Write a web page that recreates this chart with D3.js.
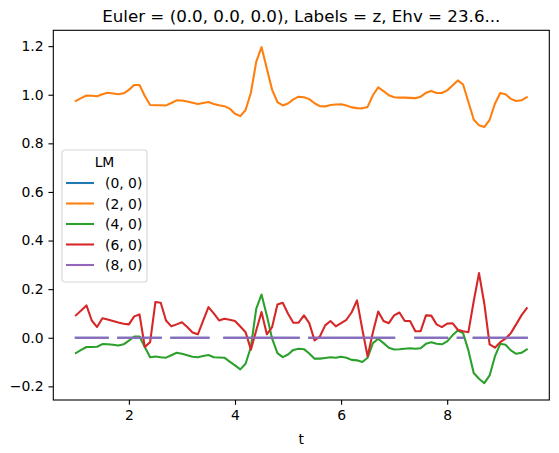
<!DOCTYPE html>
<html>
<head>
<meta charset="utf-8">
<script src="https://cdn.jsdelivr.net/npm/d3@7"></script>
<style>
  body { margin: 0; background: #fff; }
  text { font-family: "DejaVu Sans", sans-serif; }
</style>
</head>
<body>
<div id="chart"></div>
<script>
// time axis
var tValues = [1.0, 1.1, 1.2, 1.3, 1.4, 1.5, 1.6, 1.7, 1.8, 1.9,
  2.0, 2.1, 2.2, 2.3, 2.4, 2.5, 2.6, 2.7, 2.8, 2.9,
  3.0, 3.1, 3.2, 3.3, 3.4, 3.5, 3.6, 3.7, 3.8, 3.9,
  4.0, 4.1, 4.2, 4.3, 4.4, 4.5, 4.6, 4.7, 4.8, 4.9,
  5.0, 5.1, 5.2, 5.3, 5.4, 5.5, 5.6, 5.7, 5.8, 5.9,
  6.0, 6.1, 6.2, 6.3, 6.4, 6.5, 6.6, 6.7, 6.8, 6.9,
  7.0, 7.1, 7.2, 7.3, 7.4, 7.5, 7.6, 7.7, 7.8, 7.9,
  8.0, 8.1, 8.2, 8.3, 8.4, 8.5, 8.6, 8.7, 8.8, 8.9,
  9.0, 9.1, 9.2, 9.3, 9.4, 9.5];

// (0, 0) -- hidden under (8, 0)
var lm00 = [0, 0, 0, 0, 0, 0, 0, null, 0, 0,
  0, 0, 0, 0, 0, 0, 0, null, 0, 0,
  0, 0, 0, 0, 0, 0, null, null, 0, 0,
  0, 0, 0, 0, 0, 0, 0, 0, 0, 0,
  0, 0, 0, null, 0, 0, 0, 0, 0, 0,
  0, 0, 0, 0, 0, 0, 0, 0, 0, 0,
  0, null, null, null, 0, 0, 0, 0, 0, 0,
  0, null, 0, 0, null, 0, 0, 0, 0, 0,
  0, 0, 0, 0, 0, 0];

var lm20 = [0.975, 0.986, 0.997, 0.996, 0.994, 1.002, 1.008, 1.005, 1.002, 1.006,
  1.020, 1.040, 1.040, 0.995, 0.958, 0.957, 0.957, 0.956, 0.966, 0.977,
  0.976, 0.972, 0.967, 0.962, 0.966, 0.970, 0.962, 0.957, 0.953, 0.943,
  0.922, 0.912, 0.937, 1.008, 1.135, 1.196, 1.108, 1.020, 0.970, 0.956,
  0.964, 0.981, 0.992, 0.990, 0.982, 0.965, 0.953, 0.952, 0.958, 0.960,
  0.961, 0.956, 0.948, 0.945, 0.944, 0.950, 0.998, 1.030, 1.015, 0.998,
  0.990, 0.988, 0.988, 0.987, 0.986, 0.992, 1.008, 1.015, 1.007, 1.007,
  1.018, 1.038, 1.059, 1.042, 0.970, 0.898, 0.874, 0.867, 0.897, 0.963,
  1.007, 1.002, 0.983, 0.974, 0.977, 0.990];

var lm40 = [-0.063, -0.050, -0.038, -0.038, -0.037, -0.026, -0.027, -0.029, -0.032, -0.027,
  -0.012, 0.005, 0.005, -0.038, -0.080, -0.077, -0.080, -0.082, -0.072, -0.062,
  -0.066, -0.072, -0.078, -0.080, -0.075, -0.071, -0.080, -0.081, -0.082, -0.098,
  -0.114, -0.130, -0.107, -0.038, 0.119, 0.178, 0.092, -0.004, -0.063, -0.080,
  -0.069, -0.050, -0.045, -0.047, -0.065, -0.086, -0.086, -0.083, -0.080, -0.082,
  -0.078, -0.082, -0.091, -0.093, -0.100, -0.082, -0.022, -0.004, -0.022, -0.041,
  -0.048, -0.047, -0.045, -0.043, -0.045, -0.043, -0.025, -0.019, -0.025, -0.027,
  -0.015, 0.010, 0.030, 0.019, -0.052, -0.145, -0.169, -0.187, -0.155, -0.077,
  -0.025, -0.029, -0.052, -0.066, -0.062, -0.048];

var lm60 = [0.092, 0.112, 0.133, 0.071, 0.044, 0.080, 0.075, 0.069, 0.063, 0.058,
  0.055, 0.088, 0.096, -0.038, -0.018, 0.147, 0.144, 0.071, 0.047, 0.055,
  0.064, 0.044, 0.022, 0.014, 0.070, 0.126, 0.100, 0.071, 0.078, 0.074,
  0.069, 0.046, 0.023, -0.049, 0.030, 0.106, 0.014, 0.044, 0.137, 0.144,
  0.099, 0.062, 0.062, 0.092, 0.060, -0.011, 0.005, 0.051, 0.069, 0.047,
  0.060, 0.074, 0.105, 0.154, 0.035, -0.077, 0.023, 0.108, 0.069, 0.060,
  0.092, 0.104, 0.069, 0.069, 0.027, 0.027, 0.092, 0.091, 0.055, 0.044,
  0.058, 0.060, 0.033, 0.027, 0.023, 0.150, 0.266, 0.140, -0.027, -0.041,
  -0.018, -0.004, 0.019, 0.055, 0.092, 0.122];

var lm80 = [0, 0, 0, 0, 0, 0, 0, null, 0, 0,
  0, 0, 0, 0, 0, 0, 0, null, 0, 0,
  0, 0, 0, 0, 0, 0, null, null, 0, 0,
  0, 0, 0, 0, 0, 0, 0, 0, 0, 0,
  0, 0, 0, null, 0, 0, 0, 0, 0, 0,
  0, 0, 0, 0, 0, 0, 0, 0, 0, 0,
  0, null, null, null, 0, 0, 0, 0, 0, 0,
  0, null, 0, 0, null, 0, 0, 0, 0, 0,
  0, 0, 0, 0, 0, 0];

var seriesLabels = ['(0, 0)', '(2, 0)', '(4, 0)', '(6, 0)', '(8, 0)'];
var seriesValues = [lm00, lm20, lm40, lm60, lm80];
var colors = ['#1f77b4', '#ff7f0e', '#2ca02c', '#d62728', '#9467bd'];

var xTicks = [2, 4, 6, 8];
var yTicks = [-0.2, 0.0, 0.2, 0.4, 0.6, 0.8, 1.0, 1.2];

var titleText = 'Euler = (0.0, 0.0, 0.0), Labels = z, Ehv = 23.6...';
var xLabel = 't';
var legendTitle = 'LM';

function drawChart() {
  var frame = d3.select('#chart');
  frame.html('');
  var margins = { left: 53.3, right: 9.7, top: 30.3, bottom: 53 };
  var totalWidth = 559, totalHeight = 453;
  var frameWidth = totalWidth - margins.left - margins.right;
  var frameHeight = totalHeight - margins.top - margins.bottom;
  var fs = 13.9;

  var svg = frame.append('svg')
    .attr('width', totalWidth)
    .attr('height', totalHeight);
  var g = svg.append('g')
    .attr('transform', 'translate(' + margins.left + ',' + margins.top + ')');

  // matplotlib-like 5% padding on data extent
  var tExt = d3.extent(tValues);
  var tPad = (tExt[1] - tExt[0]) * 0.05;
  var allVals = [];
  seriesValues.forEach(function(s) { s.forEach(function(v) { if (v !== null) allVals.push(v); }); });
  var vExt = d3.extent(allVals);
  var vPad = (vExt[1] - vExt[0]) * 0.05;

  var xScale = d3.scaleLinear()
    .domain([tExt[0] - tPad, tExt[1] + tPad])
    .range([0, frameWidth]);
  var yScale = d3.scaleLinear()
    .domain([vExt[0] - vPad, vExt[1] + vPad])
    .range([frameHeight, 0]);

  var xAxis = d3.axisBottom(xScale)
    .tickValues(xTicks)
    .tickFormat(d3.format('d'))
    .tickSize(4.86)
    .tickPadding(4.86);
  var yAxis = d3.axisLeft(yScale)
    .tickValues(yTicks)
    .tickFormat(d3.format('.1f'))
    .tickSize(4.86)
    .tickPadding(4.86);

  var gx = g.append('g')
    .attr('class', 'axis axis--x')
    .attr('transform', 'translate(0,' + frameHeight + ')')
    .call(xAxis);
  var gy = g.append('g')
    .attr('class', 'axis axis--y')
    .call(yAxis);
  [gx, gy].forEach(function(a) {
    a.select('.domain').remove();
    a.selectAll('line').attr('stroke', '#000').attr('stroke-width', 1.1);
    a.selectAll('text')
      .attr('fill', '#000')
      .style('font-size', fs + 'px')
      .style('font-family', '"DejaVu Sans", sans-serif');
  });

  var line = d3.line()
    .defined(function(d) { return d.v !== null; })
    .x(function(d) { return xScale(d.t); })
    .y(function(d) { return yScale(d.v); });

  var plot = g.append('g');
  seriesValues.forEach(function(s, i) {
    var pts = s.map(function(v, j) { return { t: tValues[j], v: v }; });
    plot.append('path')
      .datum(pts)
      .attr('fill', 'none')
      .attr('stroke', colors[i])
      .attr('stroke-width', 2.08)
      .attr('stroke-linejoin', 'round')
      .attr('stroke-linecap', 'square')
      .attr('d', line);
  });

  // frame
  g.append('rect')
    .attr('x', 0).attr('y', 0)
    .attr('width', frameWidth).attr('height', frameHeight)
    .attr('fill', 'none')
    .attr('stroke', '#000')
    .attr('stroke-width', 1.1);

  // title
  g.append('text')
    .attr('x', frameWidth / 2)
    .attr('y', -8.3)
    .attr('text-anchor', 'middle')
    .style('font-size', '16.7px')
    .text(titleText);

  // x label
  g.append('text')
    .attr('x', frameWidth / 2)
    .attr('y', frameHeight + 44.5)
    .attr('text-anchor', 'middle')
    .style('font-size', fs + 'px')
    .text(xLabel);

  // legend
  var legend = g.append('g')
    .attr('transform', 'translate(' + (62 - margins.left) + ',' + (150 - margins.top) + ')');
  legend.append('rect')
    .attr('width', 85).attr('height', 132)
    .attr('rx', 2.8).attr('ry', 2.8)
    .attr('fill', '#fff').attr('fill-opacity', 0.8)
    .attr('stroke', '#ccc').attr('stroke-opacity', 0.8)
    .attr('stroke-width', 1.1);
  legend.append('text')
    .attr('x', 42.5).attr('y', 17)
    .attr('text-anchor', 'middle')
    .style('font-size', fs + 'px')
    .text(legendTitle);
  seriesLabels.forEach(function(lab, i) {
    var yy = 33 + i * 20.5;
    legend.append('line')
      .attr('x1', 4).attr('x2', 32)
      .attr('y1', yy).attr('y2', yy)
      .attr('stroke', colors[i])
      .attr('stroke-width', 2.08);
    legend.append('text')
      .attr('x', 43).attr('y', yy + 5)
      .style('font-size', fs + 'px')
      .text(lab);
  });
}

drawChart();
</script>
</body>
</html>
